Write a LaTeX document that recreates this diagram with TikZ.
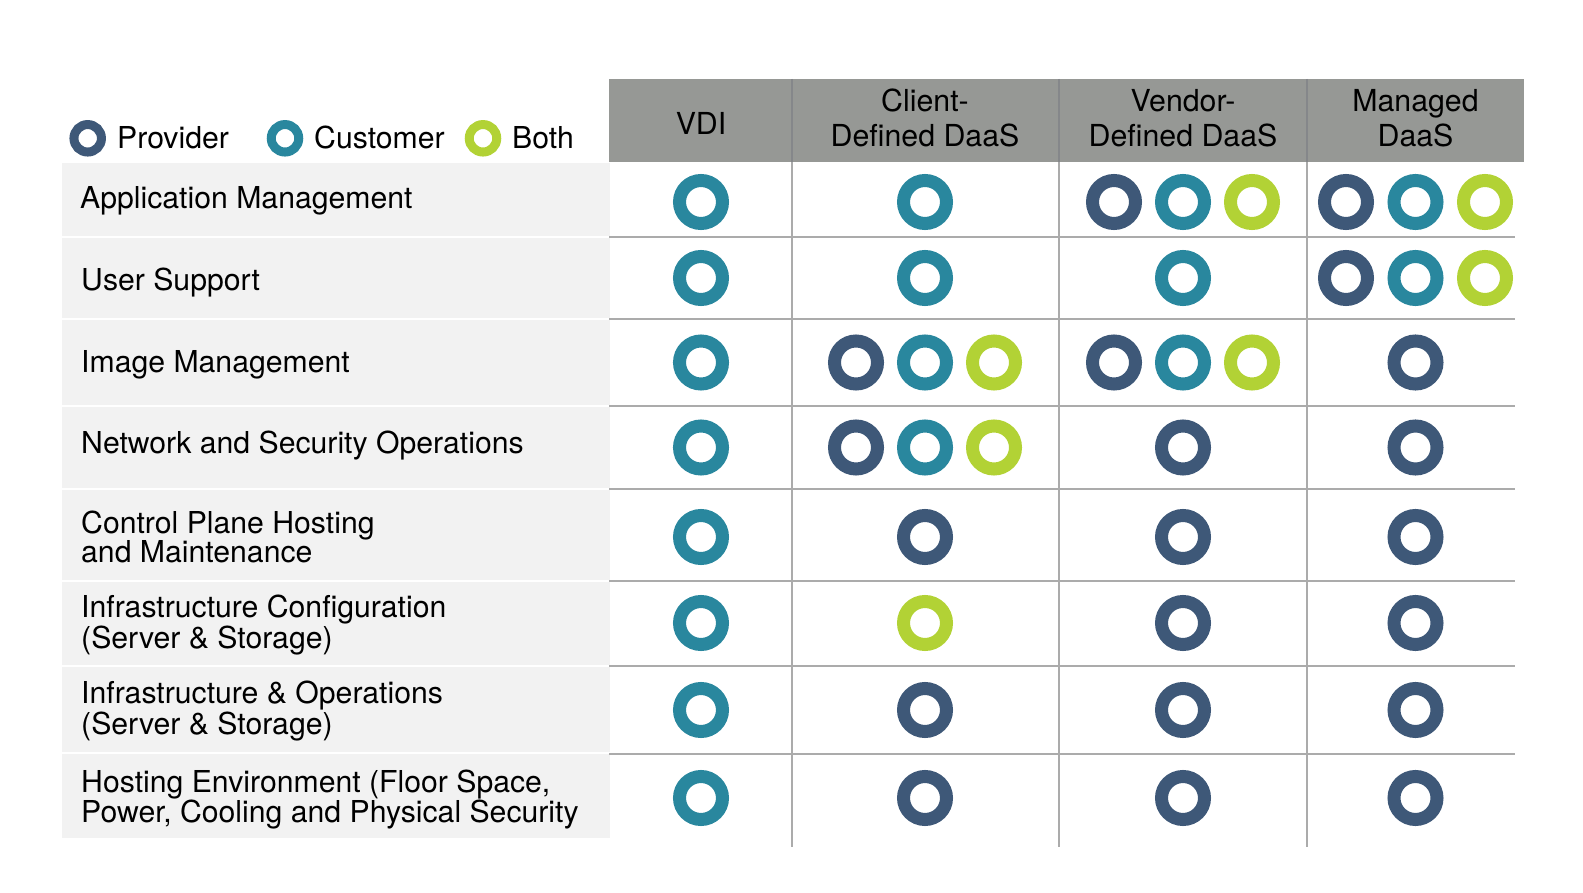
\documentclass[tikz,border=0pt]{standalone}
\usepackage{fontspec}
\setmainfont{TeX Gyre Heros}
\definecolor{prov}{HTML}{3E5878}
\definecolor{cust}{HTML}{29879E}
\definecolor{both}{HTML}{B2D235}
\definecolor{hdr}{HTML}{969895}
\definecolor{band}{HTML}{F2F2F2}
\definecolor{grid}{HTML}{ABABAB}
\definecolor{hgrid}{HTML}{85878A}
\tikzset{
  ring/.style={circle, draw=#1, line width=13pt, minimum size=43pt, inner sep=0pt, outer sep=0pt},
  lring/.style={circle, draw=#1, line width=9pt, minimum size=27.5pt, inner sep=0pt, outer sep=0pt},
  rowlabel/.style={anchor=base west, inner sep=0pt, align=left, font=\fontsize{30.2}{#1}\selectfont},
  rowlabel/.default=29,
  hdrlabel/.style={anchor=base, inner sep=0pt, align=center, font=\fontsize{30.3}{35.5}\selectfont},
  leglabel/.style={anchor=base west, inner sep=0pt, font=\fontsize{30.2}{29}\selectfont},
  gridline/.style={draw=grid, line width=2pt},
  hdrline/.style={draw=hgrid, line width=1.5pt}
}
\begin{document}
\begin{tikzpicture}[x=1pt,y=-1pt]
\useasboundingbox (0,0) rectangle (1583,893);
% left bands
\fill[band] (62,163) rectangle (609.5,236);
\fill[band] (62,238) rectangle (609.5,318);
\fill[band] (62,320) rectangle (609.5,405);
\fill[band] (62,407) rectangle (609.5,488);
\fill[band] (62,490) rectangle (609.5,580);
\fill[band] (62,582) rectangle (609.5,665);
\fill[band] (62,667) rectangle (609.5,752);
\fill[band] (62,754) rectangle (609.5,838);
% header
\fill[hdr] (609,79) rectangle (1524,162);
% grid coordinates
\coordinate (gl1) at (609,237); \coordinate (gr1) at (1515,237);
\coordinate (gl2) at (609,319); \coordinate (gr2) at (1515,319);
\coordinate (gl3) at (609,406); \coordinate (gr3) at (1515,406);
\coordinate (gl4) at (609,489); \coordinate (gr4) at (1515,489);
\coordinate (gl5) at (609,581); \coordinate (gr5) at (1515,581);
\coordinate (gl6) at (609,666); \coordinate (gr6) at (1515,666);
\coordinate (gl7) at (609,754); \coordinate (gr7) at (1515,754);
\foreach \i in {1,...,7} { \draw[gridline] (gl\i) -- (gr\i); }
\coordinate (vt1) at (792,79);  \coordinate (vm1) at (792,162); \coordinate (vb1) at (792,847);
\coordinate (vt2) at (1059,79); \coordinate (vm2) at (1059,162); \coordinate (vb2) at (1059,847);
\coordinate (vt3) at (1307,79); \coordinate (vm3) at (1307,162); \coordinate (vb3) at (1307,847);
\foreach \i in {1,2,3} { \draw[hdrline] (vt\i) -- (vm\i); \draw[gridline] (vm\i) -- (vb\i); }
% header labels (anchor is the baseline of the last line)
\node[hdrlabel] (hvdi) at (701,135) {VDI};
\node[hdrlabel] (hcli) at (925,147) {Client-\\Defined DaaS};
\node[hdrlabel] (hven) at (1183,147) {Vendor-\\Defined DaaS};
\node[hdrlabel] (hman) at (1415.5,147) {Managed\\DaaS};
% legend
\node[lring=prov] (lp) at (87.7,138.3) {};
\node[leglabel] (lpt) at (117,149) {Provider};
\node[lring=cust] (lc) at (285,138.3) {};
\node[leglabel] (lct) at (314,149) {Customer};
\node[lring=both] (lb) at (483,138.3) {};
\node[leglabel] (lbt) at (512,149) {Both};
% row labels (anchor is the baseline of the last line)
\node[rowlabel] (t1) at (80,209) {Application Management};
\node[rowlabel] (t2) at (81,291) {User Support};
\node[rowlabel] (t3) at (81,373) {Image Management};
\node[rowlabel] (t4) at (81,453) {Network and Security Operations};
\node[rowlabel=29] (t5) at (81,562) {Control Plane Hosting\\and Maintenance};
\node[rowlabel=27.5] (t6) at (81,648) {Infrastructure Configuration\\(Server \& Storage)};
\node[rowlabel=27.5] (t7) at (81,734) {Infrastructure \& Operations\\(Server \& Storage)};
\node[rowlabel=30] (t8) at (81,822) {Hosting Environment (Floor Space,\\Power, Cooling and Physical Security};
% row 1
\node[ring=cust] (a1) at (701,202) {};
\node[ring=cust] (a2) at (925,202) {};
\node[ring=prov] (a3) at (1114,202) {};
\node[ring=cust] (a4) at (1183,202) {};
\node[ring=both] (a5) at (1252,202) {};
\node[ring=prov] (a6) at (1346,202) {};
\node[ring=cust] (a7) at (1415.5,202) {};
\node[ring=both] (a8) at (1485,202) {};
% row 2
\node[ring=cust] (b1) at (701,278) {};
\node[ring=cust] (b2) at (925,278) {};
\node[ring=cust] (b3) at (1183,278) {};
\node[ring=prov] (b4) at (1346,278) {};
\node[ring=cust] (b5) at (1415.5,278) {};
\node[ring=both] (b6) at (1485,278) {};
% row 3
\node[ring=cust] (c1) at (701,362.5) {};
\node[ring=prov] (c2) at (856,362.5) {};
\node[ring=cust] (c3) at (925,362.5) {};
\node[ring=both] (c4) at (994,362.5) {};
\node[ring=prov] (c5) at (1114,362.5) {};
\node[ring=cust] (c6) at (1183,362.5) {};
\node[ring=both] (c7) at (1252,362.5) {};
\node[ring=prov] (c8) at (1415.5,362.5) {};
% row 4
\node[ring=cust] (d1) at (701,447.5) {};
\node[ring=prov] (d2) at (856,447.5) {};
\node[ring=cust] (d3) at (925,447.5) {};
\node[ring=both] (d4) at (994,447.5) {};
\node[ring=prov] (d5) at (1183,447.5) {};
\node[ring=prov] (d6) at (1415.5,447.5) {};
% row 5
\node[ring=cust] (e1) at (701,537) {};
\node[ring=prov] (e2) at (925,537) {};
\node[ring=prov] (e3) at (1183,537) {};
\node[ring=prov] (e4) at (1415.5,537) {};
% row 6
\node[ring=cust] (f1) at (701,623) {};
\node[ring=both] (f2) at (925,623) {};
\node[ring=prov] (f3) at (1183,623) {};
\node[ring=prov] (f4) at (1415.5,623) {};
% row 7
\node[ring=cust] (g1) at (701,710) {};
\node[ring=prov] (g2) at (925,710) {};
\node[ring=prov] (g3) at (1183,710) {};
\node[ring=prov] (g4) at (1415.5,710) {};
% row 8
\node[ring=cust] (h1) at (701,798) {};
\node[ring=prov] (h2) at (925,798) {};
\node[ring=prov] (h3) at (1183,798) {};
\node[ring=prov] (h4) at (1415.5,798) {};
\end{tikzpicture}
\end{document}
